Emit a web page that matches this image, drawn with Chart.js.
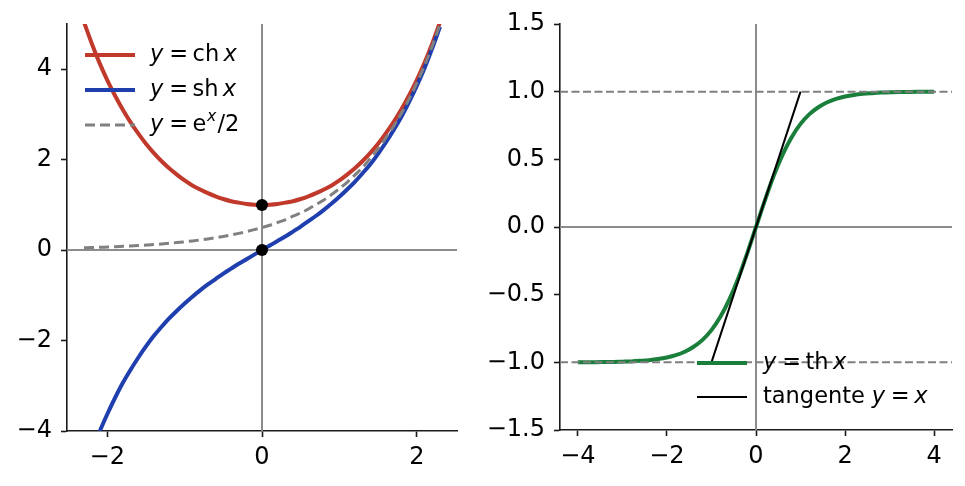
<!DOCTYPE html>
<html>
<head>
<meta charset="utf-8">
<script src="https://cdn.jsdelivr.net/npm/chart.js@4/dist/chart.umd.min.js"></script>
<style>
html,body{margin:0;padding:0;background:#fff;width:965px;height:486px;overflow:hidden;}
.box{position:absolute;top:0;height:486px;}
</style>
</head>
<body>
<div class="box" style="left:0;width:482px;"><canvas id="c1" width="482" height="486"></canvas></div>
<div class="box" style="left:482px;width:483px;"><canvas id="c2" width="483" height="486"></canvas></div>
<script>
// ---------- data ----------
const xLeft = [-2.3,-2.2,-2.1,-2.0,-1.9,-1.8,-1.7,-1.6,-1.5,-1.4,-1.3,-1.2,-1.1,-1.0,-0.9,-0.8,-0.7,-0.6,-0.5,-0.4,-0.3,-0.2,-0.1,0,0.1,0.2,0.3,0.4,0.5,0.6,0.7,0.8,0.9,1.0,1.1,1.2,1.3,1.4,1.5,1.6,1.7,1.8,1.9,2.0,2.1,2.2,2.3];
const chVals = [5.04,4.57,4.14,3.76,3.42,3.11,2.83,2.58,2.35,2.15,1.97,1.81,1.67,1.54,1.43,1.34,1.26,1.19,1.13,1.08,1.05,1.02,1.005,1.00,1.005,1.02,1.05,1.08,1.13,1.19,1.26,1.34,1.43,1.54,1.67,1.81,1.97,2.15,2.35,2.58,2.83,3.11,3.42,3.76,4.14,4.57,5.04];
const shVals = [-4.94,-4.46,-4.02,-3.63,-3.27,-2.94,-2.65,-2.38,-2.13,-1.90,-1.70,-1.51,-1.34,-1.18,-1.03,-0.89,-0.76,-0.64,-0.52,-0.41,-0.30,-0.20,-0.10,0,0.10,0.20,0.30,0.41,0.52,0.64,0.76,0.89,1.03,1.18,1.34,1.51,1.70,1.90,2.13,2.38,2.65,2.94,3.27,3.63,4.02,4.46,4.94];
const expHalfVals = [0.050,0.055,0.061,0.068,0.075,0.083,0.091,0.101,0.112,0.123,0.136,0.151,0.166,0.184,0.203,0.225,0.248,0.274,0.303,0.335,0.370,0.409,0.452,0.50,0.55,0.61,0.67,0.75,0.82,0.91,1.01,1.11,1.23,1.36,1.50,1.66,1.83,2.03,2.24,2.48,2.74,3.02,3.34,3.69,4.08,4.51,4.99];
const markX = [0,0];
const markY = [1,0];

const xRight = [-4.0,-3.8,-3.6,-3.4,-3.2,-3.0,-2.8,-2.6,-2.4,-2.2,-2.0,-1.8,-1.6,-1.4,-1.2,-1.0,-0.8,-0.6,-0.4,-0.2,0,0.2,0.4,0.6,0.8,1.0,1.2,1.4,1.6,1.8,2.0,2.2,2.4,2.6,2.8,3.0,3.2,3.4,3.6,3.8,4.0];
const thVals = [-0.999,-0.999,-0.999,-0.998,-0.997,-0.995,-0.993,-0.989,-0.984,-0.976,-0.964,-0.947,-0.922,-0.885,-0.834,-0.762,-0.664,-0.537,-0.380,-0.197,0,0.197,0.380,0.537,0.664,0.762,0.834,0.885,0.922,0.947,0.964,0.976,0.984,0.989,0.993,0.995,0.997,0.998,0.999,0.999,0.999];
const tanX = [-1,1];
const tanY = [-1,1];
const asymptotes = [-1,1];

const leftXTicks = [-2,0,2];
const leftYTicks = [-4,-2,0,2,4];
const rightXTicks = [-4,-2,0,2,4];
const rightYTicks = [-1.5,-1.0,-0.5,0.0,0.5,1.0,1.5];

// legend labels as rich segments (i = italic, sup = superscript, g = gap after, in em)
const legendLeft = [
  [{t:'y',i:1,g:0.26},{t:'=',g:0.2},{t:'ch',g:0.19},{t:'x',i:1}],
  [{t:'y',i:1,g:0.26},{t:'=',g:0.2},{t:'sh',g:0.19},{t:'x',i:1}],
  [{t:'y',i:1,g:0.26},{t:'=',g:0.2},{t:'e',g:0.03},{t:'x',i:1,sup:1,g:0.05},{t:'/2'}]
];
const legendRight = [
  [{t:'y',i:1,g:0.26},{t:'=',g:0.2},{t:'th',g:0.19},{t:'x',i:1}],
  [{t:'tangente',g:0.3},{t:'y',i:1,g:0.26},{t:'=',g:0.2},{t:'x',i:1}]
];

// ---------- styling ----------
const FONT = '"DejaVu Sans", "Liberation Sans", sans-serif';
const FS = 24;      // tick labels
const LFS = 22.5;   // legend
const RED = '#c0392b', BLUE = '#1f3fae', GREEN = '#1b7f3c', GRAY = '#808080', AXGRAY = '#8c8c8c', SPINE = '#1a1a1a';

const pts = (xs, ys) => xs.map((x, k) => ({x: x, y: ys[k]}));
const fmt = (v, d) => (d ? Number(v).toFixed(d) : String(v)).replace('-', '\u2212');

function drawRich(ctx, x, y, segs) {
  ctx.textBaseline = 'middle';
  ctx.textAlign = 'left';
  ctx.fillStyle = '#000';
  for (const s of segs) {
    const size = s.sup ? LFS * 0.7 : LFS;
    ctx.font = (s.i ? 'italic ' : '') + size + 'px ' + FONT;
    ctx.fillText(s.t, x, s.sup ? y - LFS * 0.36 : y);
    x += ctx.measureText(s.t).width + (s.g || 0) * LFS;
  }
}

function refLinesPlugin(hl, vl, dashed) {
  return {
    id: 'reflines',
    beforeDatasetsDraw(chart) {
      const {ctx, chartArea: a, scales: {x, y}} = chart;
      ctx.save();
      ctx.beginPath(); ctx.rect(a.left, a.top, a.width, a.height); ctx.clip();
      ctx.strokeStyle = AXGRAY; ctx.lineWidth = 2;
      for (const v of hl) { const py = y.getPixelForValue(v); ctx.beginPath(); ctx.moveTo(a.left, py); ctx.lineTo(a.right, py); ctx.stroke(); }
      for (const v of vl) { const px = x.getPixelForValue(v); ctx.beginPath(); ctx.moveTo(px, a.top); ctx.lineTo(px, a.bottom); ctx.stroke(); }
      ctx.restore();
    },
    afterDatasetsDraw(chart) {
      if (!dashed) return;
      const {ctx, chartArea: a, scales: {y}} = chart;
      ctx.save();
      ctx.strokeStyle = GRAY; ctx.lineWidth = 2; ctx.setLineDash([8, 3.5]);
      for (const v of dashed) { const py = y.getPixelForValue(v); ctx.beginPath(); ctx.moveTo(a.left, py); ctx.lineTo(a.right, py); ctx.stroke(); }
      ctx.restore();
    }
  };
}

function legendPlugin(items, pos) {
  return {
    id: 'richlegend',
    afterDraw(chart) {
      const {ctx, chartArea: a} = chart;
      ctx.save();
      items.forEach((it, k) => {
        const p = pos(a, k);
        ctx.strokeStyle = it.color; ctx.lineWidth = it.width; ctx.setLineDash(it.dash || []);
        ctx.beginPath(); ctx.moveTo(p.lx0, p.y); ctx.lineTo(p.lx1, p.y); ctx.stroke();
        ctx.setLineDash([]);
        drawRich(ctx, p.tx, p.y, it.label);
      });
      ctx.restore();
    }
  };
}

function axis(min, max, tickVals, dec, fixedSize, isX) {
  return {
    type: 'linear', min: min, max: max,
    afterBuildTicks(s) { s.ticks = tickVals.map(v => ({value: v})); },
    afterFit(s) { if (isX) s.height = fixedSize; else s.width = fixedSize; },
    ticks: {
      color: '#000', font: {family: FONT, size: FS}, padding: isX ? 6 : 9,
      callback: v => fmt(v, dec)
    },
    grid: {drawOnChartArea: false, drawTicks: true, tickLength: 6, tickColor: SPINE, tickWidth: 1.6},
    border: {display: true, color: SPINE, width: 1.6}
  };
}

const common = {
  responsive: false, animation: false, devicePixelRatio: 1,
  plugins: {legend: {display: false}, tooltip: {enabled: false}},
  elements: {point: {radius: 0}, line: {cubicInterpolationMode: 'monotone', borderCapStyle: 'butt'}}
};

// ---------- left chart ----------
new Chart(document.getElementById('c1'), {
  type: 'scatter',
  data: {datasets: [
    {label: 'points', data: pts(markX, markY), pointRadius: 6, pointBackgroundColor: '#000', pointBorderWidth: 0, showLine: false, order: 0},
    {label: 'ch', data: pts(xLeft, chVals), showLine: true, borderColor: RED, borderWidth: 4, order: 3},
    {label: 'sh', data: pts(xLeft, shVals), showLine: true, borderColor: BLUE, borderWidth: 4, order: 2},
    {label: 'exp/2', data: pts(xLeft, expHalfVals), showLine: true, borderColor: GRAY, borderWidth: 3, borderDash: [10, 5], order: 1}
  ]},
  options: Object.assign({}, common, {
    layout: {padding: {top: 24, right: 25, left: 0, bottom: 0}},
    scales: {
      x: axis(-2.52, 2.52, leftXTicks, 0, 55, true),
      y: axis(-4, 5, leftYTicks, 0, 67, false)
    }
  }),
  plugins: [
    refLinesPlugin([0], [0], null),
    legendPlugin([
      {color: RED, width: 4, label: legendLeft[0]},
      {color: BLUE, width: 4, label: legendLeft[1]},
      {color: GRAY, width: 3, dash: [10, 5], label: legendLeft[2]}
    ], (a, k) => ({lx0: a.left + 18, lx1: a.left + 68, tx: a.left + 83, y: a.top + 31 + 35 * k}))
  ]
});

// ---------- right chart ----------
new Chart(document.getElementById('c2'), {
  type: 'scatter',
  data: {datasets: [
    {label: 'th', data: pts(xRight, thVals), showLine: true, borderColor: GREEN, borderWidth: 4, order: 2},
    {label: 'tangente', data: pts(tanX, tanY), showLine: true, borderColor: '#000', borderWidth: 2, order: 1}
  ]},
  options: Object.assign({}, common, {
    layout: {padding: {top: 24, right: 13, left: 0, bottom: 0}},
    scales: {
      x: axis(-4.4, 4.4, rightXTicks, 0, 56, true),
      y: axis(-1.5, 1.5, rightYTicks, 1, 78, false)
    }
  }),
  plugins: [
    refLinesPlugin([0], [0], asymptotes),
    legendPlugin([
      {color: GREEN, width: 4, label: legendRight[0]},
      {color: '#000', width: 2, label: legendRight[1]}
    ], (a, k) => ({lx0: a.right - 255, lx1: a.right - 205, tx: a.right - 189, y: a.bottom - 67 + 34 * k}))
  ]
});
</script>
</body>
</html>
